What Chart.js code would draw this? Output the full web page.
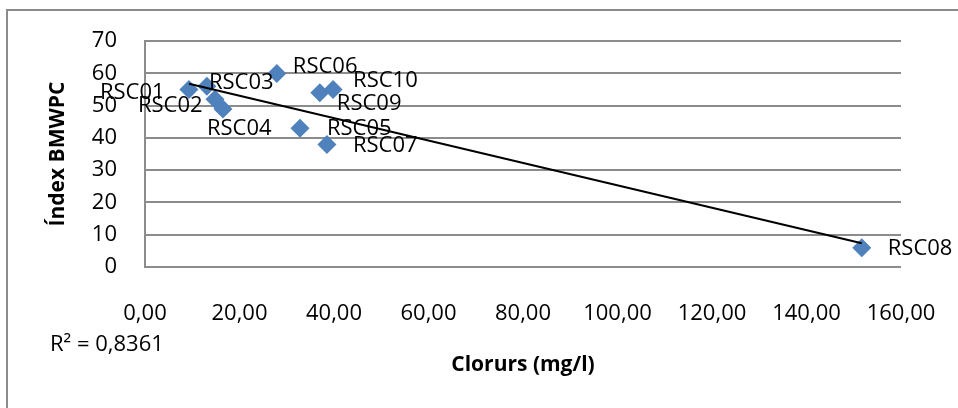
<!DOCTYPE html>
<html>
<head>
<meta charset="utf-8">
<script src="https://cdn.jsdelivr.net/npm/chart.js@4.4.1/dist/chart.umd.min.js"></script>
<style>
  html, body { margin: 0; padding: 0; background: #fff; }
  canvas { display: block; }
</style>
</head>
<body>
<canvas id="bmwpcChart" width="958" height="408"></canvas>
<script>
const sites = ['RSC01', 'RSC02', 'RSC03', 'RSC04', 'RSC05', 'RSC06', 'RSC07', 'RSC08', 'RSC09', 'RSC10'];
const chlorides = [9.3, 14.8, 13.1, 16.5, 32.8, 27.9, 38.5, 151.7, 37.0, 39.8];
const bmwpc = [55, 52, 56, 49, 43, 60, 38, 6, 54, 55];
const r2Text = 'R² = 0,8361';

// where each site name sits relative to its marker (px)
const labelNudge = [[-89, 3], [-77, 6], [2, -4], [-16, 20], [27, 0], [16, -7], [26, 1], [26, 1], [17, 11], [20, -9]];

const FONT = "'Open Sans', 'DejaVu Sans', sans-serif";

// least squares line through the points
function linearFit(xs, ys) {
  const n = xs.length;
  const mx = xs.reduce((a, b) => a + b, 0) / n;
  const my = ys.reduce((a, b) => a + b, 0) / n;
  let sxy = 0, sxx = 0;
  for (let i = 0; i < n; i++) {
    sxy += (xs[i] - mx) * (ys[i] - my);
    sxx += (xs[i] - mx) * (xs[i] - mx);
  }
  const slope = sxy / sxx;
  return { slope, intercept: my - slope * mx };
}

const fit = linearFit(chlorides, bmwpc);
const xMin = Math.min(...chlorides);
const xMax = Math.max(...chlorides);
const trend = [xMin, xMax].map(x => ({ x, y: fit.intercept + fit.slope * x }));

const points = chlorides.map((x, i) => ({ x, y: bmwpc[i] }));

const extras = {
  id: 'extras',
  beforeDraw(chart) {
    const ctx = chart.ctx;
    ctx.save();
    ctx.strokeStyle = '#8c8c8c';
    ctx.lineWidth = 2;
    ctx.strokeRect(7, 10, 1000, 1000);
    ctx.restore();
  },
  afterDatasetsDraw(chart) {
    const ctx = chart.ctx;
    const meta = chart.getDatasetMeta(1);
    ctx.save();
    ctx.font = '22px ' + FONT;
    ctx.fillStyle = '#000';
    ctx.textAlign = 'left';
    ctx.textBaseline = 'middle';
    meta.data.forEach((pt, i) => {
      ctx.fillText(sites[i], pt.x + labelNudge[i][0], pt.y + labelNudge[i][1]);
    });
    const area = chart.chartArea;
    ctx.fillText(r2Text, area.left - 95, area.bottom + 78);
    ctx.restore();
  }
};

new Chart(document.getElementById('bmwpcChart'), {
  type: 'scatter',
  data: {
    datasets: [
      {
        type: 'line',
        data: trend,
        borderColor: '#000',
        borderWidth: 2,
        pointRadius: 0,
        fill: false,
        order: 0
      },
      {
        data: points,
        pointStyle: 'rectRot',
        pointRadius: 9.5,
        backgroundColor: '#4F81BD',
        borderColor: '#4F81BD',
        borderWidth: 0,
        order: 1
      }
    ]
  },
  options: {
    responsive: false,
    animation: false,
    layout: { padding: { top: 39, right: 57, bottom: 0, left: 0 } },
    plugins: {
      legend: { display: false },
      tooltip: { enabled: false }
    },
    scales: {
      x: {
        type: 'linear',
        min: 0,
        max: 160,
        afterFit(scale) {
          scale.height = 141;
          // let the end labels hang past the plot without shrinking it
          scale.paddingLeft = 0;
          scale.paddingRight = 0;
        },
        grid: { display: false, drawTicks: false },
        border: { display: false },
        ticks: {
          stepSize: 20,
          padding: 34,
          color: '#000',
          font: { family: FONT, size: 22 },
          callback: v => v.toFixed(2).replace('.', ',')
        },
        title: {
          display: true,
          text: 'Clorurs (mg/l)',
          color: '#000',
          font: { family: FONT, size: 21, weight: 'bold' },
          padding: { top: 0, bottom: 30 }
        }
      },
      y: {
        min: 0,
        max: 70,
        afterFit(scale) { scale.width = 145; },
        grid: { color: '#8c8c8c', lineWidth: 2, drawTicks: false },
        border: { display: true, color: '#8c8c8c', width: 2 },
        ticks: {
          stepSize: 10,
          padding: 28,
          color: '#000',
          font: { family: FONT, size: 22 }
        },
        title: {
          display: true,
          text: 'Índex BMWPC',
          color: '#000',
          font: { family: FONT, size: 21, weight: 'bold' },
          padding: { top: 45, bottom: 0 }
        }
      }
    }
  },
  plugins: [extras]
});
</script>
</body>
</html>
